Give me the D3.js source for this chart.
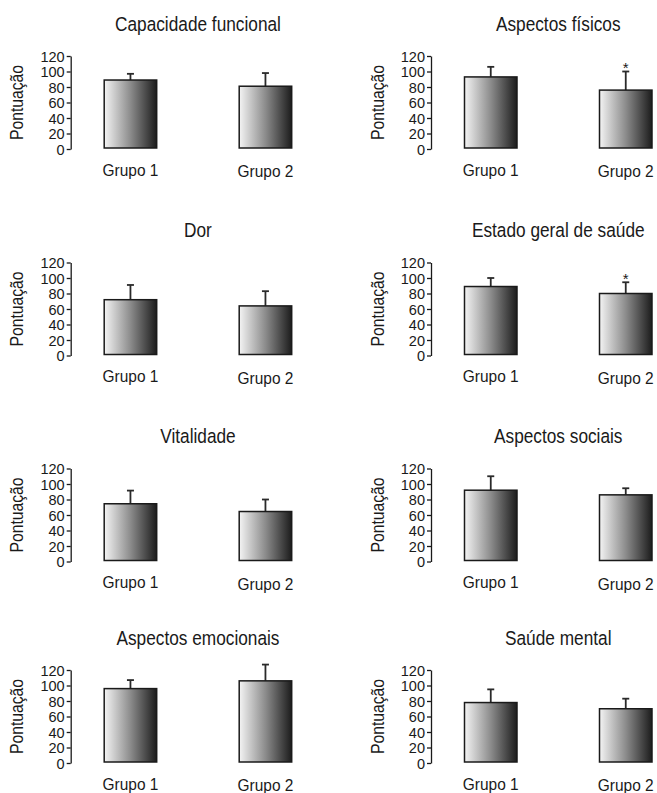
<!DOCTYPE html>
<html>
<head>
<meta charset="utf-8">
<script src="https://cdn.jsdelivr.net/npm/d3@7"></script>
<style>
  html, body { margin: 0; padding: 0; background: #fff; }
  svg { display: block; }
  text { font-family: "Liberation Sans", Arial, sans-serif; fill: #1a1a1a; }
</style>
</head>
<body>
<svg id="chart" width="657" height="793"></svg>
<script>
// ---- Data ----
const panelTitles = ["Capacidade funcional", "Aspectos físicos", "Dor", "Estado geral de saúde",
                     "Vitalidade", "Aspectos sociais", "Aspectos emocionais", "Saúde mental"];
const groups = ["Grupo 1", "Grupo 2"];
const grupo1Mean = [89, 93, 72, 89, 74.5, 92, 96, 78];
const grupo1SD   = [8, 13, 19, 11, 17, 18, 11, 17];
const grupo2Mean = [81, 76, 64, 80, 64.5, 86, 106, 70];
const grupo2SD   = [17, 24, 19, 14.5, 15.5, 8.5, 21, 13];
const grupo2Significant = [false, true, false, true, false, false, false, false];
const yTicks = [0, 20, 40, 60, 80, 100, 120];
const yLabel = "Pontuação";

// ---- Layout ----
const svg = d3.select("#chart");
const colAxisX = [70.7, 431];
const rowTopY = [56, 262.5, 468.5, 670];
const axisH = 93;
const barW = 52.5;

const defs = svg.append("defs");
const grad = defs.append("linearGradient").attr("id", "barGrad")
  .attr("x1", "0%").attr("x2", "100%").attr("y1", "0%").attr("y2", "0%");
grad.append("stop").attr("offset", "0%").attr("stop-color", "#f4f4f4");
grad.append("stop").attr("offset", "50%").attr("stop-color", "#8c8c8c");
grad.append("stop").attr("offset", "100%").attr("stop-color", "#1c1c1c");

// condensed-looking text: horizontal squeeze of a regular sans
function label(g, x, y, str, size, sx, rot) {
  return g.append("text")
    .attr("transform", `translate(${x},${y})` + (rot ? ` rotate(${rot})` : "") + ` scale(${sx},1)`)
    .attr("text-anchor", "middle").attr("font-size", size).text(str);
}

panelTitles.forEach((title, i) => {
  const col = i % 2, row = Math.floor(i / 2);
  const x0 = colAxisX[col], yTop = rowTopY[row];
  const g = svg.append("g");

  const y = d3.scaleLinear().domain([0, 120]).range([yTop + axisH, yTop]);
  const x = d3.scalePoint().domain(groups).range([x0 + 59.75, x0 + 194.75]);

  const rows = [
    { grp: groups[0], mean: grupo1Mean[i], sd: grupo1SD[i], sig: false },
    { grp: groups[1], mean: grupo2Mean[i], sd: grupo2SD[i], sig: grupo2Significant[i] }
  ];

  // axis
  const axis = d3.axisLeft(y).tickValues(yTicks).tickSize(4).tickSizeOuter(0).tickPadding(2);
  const ag = g.append("g").attr("transform", `translate(${x0},0)`).call(axis);
  ag.select(".domain").attr("stroke", "#1a1a1a").attr("stroke-width", 1.3);
  ag.selectAll(".tick line").attr("stroke", "#1a1a1a").attr("stroke-width", 1.3);
  ag.selectAll(".tick text").attr("font-size", 15).attr("font-family", '"Liberation Sans", Arial, sans-serif')
    .attr("fill", "#1a1a1a")
    .attr("transform", "translate(-6,0) scale(0.97,1)").attr("x", 0).attr("dy", "0.36em");

  // y label
  label(g, x0 - 47.5, yTop + axisH / 2, yLabel, 17.5, 0.9, -90);

  // title
  label(g, x0 + 127.25, yTop - 25.5, title, 19.5, 0.885, 0);

  // error bars
  rows.forEach(d => {
    const cx = x(d.grp), yt = y(d.mean + d.sd);
    g.append("line").attr("x1", cx).attr("x2", cx).attr("y1", y(d.mean)).attr("y2", yt)
      .attr("stroke", "#2a2a2a").attr("stroke-width", 1.8);
    g.append("line").attr("x1", cx - 3.5).attr("x2", cx + 3.5).attr("y1", yt).attr("y2", yt)
      .attr("stroke", "#2a2a2a").attr("stroke-width", 1.8);
    if (d.sig) {
      g.append("text").attr("x", cx).attr("y", yt + 1.5).attr("text-anchor", "middle")
        .attr("font-size", 15).text("*");
    }
  });

  // bars
  g.selectAll("rect.bar").data(rows).join("rect").attr("class", "bar")
    .attr("x", d => x(d.grp) - barW / 2).attr("width", barW)
    .attr("y", d => y(d.mean)).attr("height", d => y(0) - y(d.mean) - 1)
    .attr("fill", "url(#barGrad)").attr("stroke", "#1a1a1a").attr("stroke-width", 1.5);

  // x labels
  rows.forEach((d, k) => {
    label(g, x(d.grp), yTop + axisH + (k === 0 ? 26.5 : 28), d.grp, 17, 0.91, 0);
  });
});
</script>
</body>
</html>
